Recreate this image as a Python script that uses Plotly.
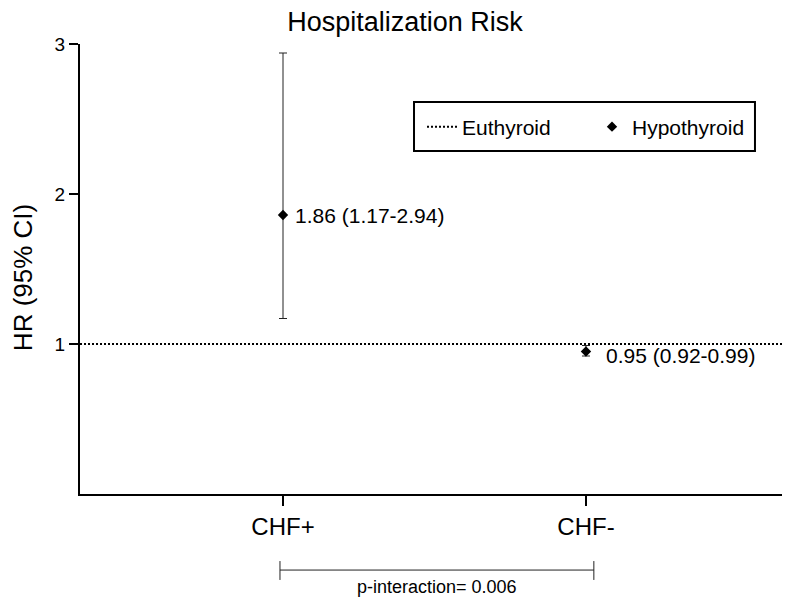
import plotly.graph_objects as go

# data
groups = ["CHF+", "CHF-"]
hr = [1.86, 0.95]
ci_low = [1.17, 0.92]
ci_high = [2.94, 0.99]
ref_hr = [1, 1]
x_range = [-0.67, 1.647]
labels = [f"{h:.2f} ({l:.2f}-{u:.2f})" for h, l, u in zip(hr, ci_low, ci_high)]

xpos = list(range(len(groups)))
font = "Liberation Sans, Arial, sans-serif"

fig = go.Figure()

# reference line (euthyroid)
fig.add_trace(go.Scatter(
    x=x_range, y=ref_hr, mode="lines", name="Euthyroid",
    line=dict(color="black", width=2, dash="2px,2px"),
))

# hypothyroid HR with CI
fig.add_trace(go.Scatter(
    x=xpos, y=hr, mode="markers", name="Hypothyroid",
    marker=dict(symbol="diamond", size=8, color="black"),
    error_y=dict(type="data", symmetric=False,
                 array=[u - h for u, h in zip(ci_high, hr)],
                 arrayminus=[h - l for h, l in zip(hr, ci_low)],
                 color="#222222", thickness=1, width=4),
))

# value labels
for xi, h, lab, xs, ys in zip(xpos, hr, labels, [10, 18], [0, -4]):
    fig.add_annotation(x=xi, y=h, text=lab, showarrow=False, xanchor="left", yanchor="middle",
                       xshift=xs, yshift=ys, font=dict(size=21, color="black", family=font))

# legend box
fig.add_shape(type="rect", xref="paper", yref="paper", x0=0.4758, x1=0.9615, y0=0.7622, y1=0.8711,
              line=dict(color="black", width=2), fillcolor="white", layer="below")

# y axis title
fig.add_annotation(x=-0.081, y=0.48, xref="paper", yref="paper", text="HR (95% CI)", textangle=-90,
                   showarrow=False, xanchor="center", yanchor="middle",
                   font=dict(size=26, color="black", family=font))

# p-interaction bracket below the axis
fig.add_shape(type="line", xref="x", yref="paper", x0=-0.01, x1=1.026, y0=-0.169, y1=-0.169,
              line=dict(color="#222222", width=1))
for xb in (-0.01, 1.026):
    fig.add_shape(type="line", xref="x", yref="paper", x0=xb, x1=xb, y0=-0.149, y1=-0.191,
                  line=dict(color="#222222", width=1))
fig.add_annotation(x=0.508, y=-0.207, xref="x", yref="paper", text="p-interaction= 0.006",
                   showarrow=False, yanchor="middle", font=dict(size=18, color="black", family=font))

fig.update_layout(
    width=792, height=604,
    margin=dict(l=72, r=18, t=36, b=118),
    paper_bgcolor="white", plot_bgcolor="white",
    font=dict(family=font, color="black"),
    title=dict(text="Hospitalization Risk", x=397 / 792, xanchor="center",
               y=1 - 14 / 604, yanchor="middle", font=dict(size=27, color="black", family=font)),
    showlegend=True,
    legend=dict(orientation="h", x=(422 - 80) / 702, y=(494 - 127) / 450,
                xanchor="left", yanchor="middle",
                borderwidth=0, bgcolor="rgba(0,0,0,0)",
                font=dict(size=21, color="black", family=font),
                itemwidth=30, entrywidth=125, tracegroupgap=0),
    xaxis=dict(range=x_range, tickvals=xpos, ticktext=groups,
               showline=True, linecolor="black", linewidth=2, showgrid=False, zeroline=False,
               ticks="outside", ticklen=10, tickwidth=2, tickcolor="black",
               tickfont=dict(size=24, color="black", family=font)),
    yaxis=dict(range=[0, 3], tickvals=[1, 2, 3],
               showline=True, linecolor="black", linewidth=2, showgrid=False, zeroline=False,
               ticks="outside", ticklen=9, tickwidth=2, tickcolor="black",
               tickfont=dict(size=19, color="black", family=font)),
)

fig.write_html("out.html")
